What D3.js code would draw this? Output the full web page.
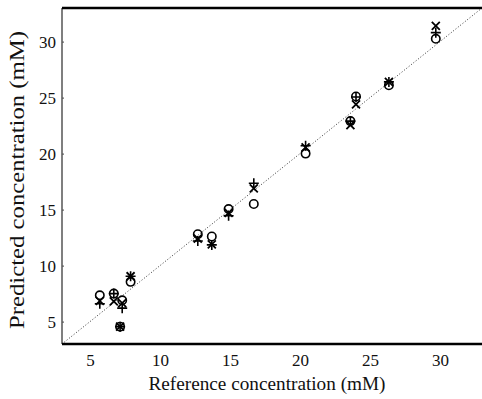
<!DOCTYPE html>
<html>
<head>
<meta charset="utf-8">
<script src="https://cdn.jsdelivr.net/npm/d3@7"></script>
<style>
  body { margin: 0; background: #fff; }
  svg text { font-family: "Liberation Serif", "DejaVu Serif", serif; fill: #111; }
</style>
</head>
<body>
<svg id="chart" width="482" height="399"></svg>
<script>
// reference concentration of each sample (mM)
const reference = [5.7, 6.7, 7.15, 7.3, 7.9, 12.7, 13.7, 14.9, 16.7, 20.4, 23.6, 24.0, 26.35, 29.7];
// three predictions per sample
const predCircle = [7.35, 7.5, 4.55, 6.9, 8.55, 12.8, 12.6, 15.05, 15.5, 20.0, 22.9, 25.1, 26.1, 30.25];
const predPlus   = [6.6, 7.5, 4.55, 6.2, 9.05, 12.2, 11.85, 14.45, 17.35, 20.7, 22.9, 25.05, 26.4, 30.8];
const predCross  = [6.85, 6.8, 4.55, 6.65, 9.05, 12.4, 11.9, 14.7, 16.9, 20.55, 22.55, 24.4, 26.4, 31.4];
const ticks = [5, 10, 15, 20, 25, 30];

const svg = d3.select('#chart');
const plotLeft = 62, plotRight = 482, plotTop = 8, plotBottom = 344;

let x = d3.scaleLinear().domain([3, 33]).range([plotLeft, plotRight]);
let y = d3.scaleLinear().domain([3, 33]).range([plotBottom, plotTop]);

// identity line
svg.append('line')
    .attr('x1', x(3)).attr('y1', y(3)).attr('x2', x(33)).attr('y2', y(33))
    .attr('stroke', '#333').attr('stroke-width', 1).attr('stroke-dasharray', '1,2');

// axes
let xAxis = svg.append('g').attr('transform', 'translate(0,' + plotBottom + ')')
    .call(d3.axisBottom(x).tickValues(ticks).tickSize(0).tickPadding(10));
xAxis.select('.domain').remove();
xAxis.selectAll('text').attr('font-size', 17).attr('font-family', null);

let yAxis = svg.append('g').attr('transform', 'translate(' + plotLeft + ',0)')
    .call(d3.axisLeft(y).tickValues(ticks).tickSize(-2).tickPadding(6));
yAxis.select('.domain').remove();
yAxis.selectAll('line').attr('stroke', '#444');
yAxis.selectAll('text').attr('font-size', 17).attr('font-family', null);

svg.append('line').attr('x1', plotLeft).attr('x2', plotLeft).attr('y1', plotTop).attr('y2', plotBottom)
    .attr('stroke', '#555').attr('stroke-width', 1.5);
svg.append('line').attr('x1', plotLeft).attr('x2', plotRight).attr('y1', plotBottom).attr('y2', plotBottom)
    .attr('stroke', '#000').attr('stroke-width', 2.5);
svg.append('line').attr('x1', plotLeft).attr('x2', plotRight).attr('y1', plotTop).attr('y2', plotTop)
    .attr('stroke', '#000').attr('stroke-width', 2.5);

// markers
let circles = svg.append('g');
reference.forEach((r, i) => {
    circles.append('circle').attr('cx', x(r)).attr('cy', y(predCircle[i])).attr('r', 4.2)
        .attr('fill', 'none').attr('stroke', '#000').attr('stroke-width', 1.6);
});
let pluses = svg.append('g');
reference.forEach((r, i) => {
    let cx = x(r), cy = y(predPlus[i]);
    pluses.append('path')
        .attr('d', 'M' + (cx - 5) + ',' + cy + 'h10M' + cx + ',' + (cy - 5) + 'v10')
        .attr('stroke', '#000').attr('stroke-width', 1.6).attr('fill', 'none');
});
let crosses = svg.append('g');
reference.forEach((r, i) => {
    let cx = x(r), cy = y(predCross[i]);
    crosses.append('path')
        .attr('d', 'M' + (cx - 4) + ',' + (cy - 4) + 'l8,8M' + (cx - 4) + ',' + (cy + 4) + 'l8,-8')
        .attr('stroke', '#000').attr('stroke-width', 1.8).attr('fill', 'none');
});

// titles
svg.append('text').attr('x', 267).attr('y', 390)
    .attr('text-anchor', 'middle').attr('font-size', 19)
    .attr('textLength', 237).attr('lengthAdjust', 'spacingAndGlyphs')
    .text('Reference concentration (mM)');
svg.append('text').attr('transform', 'translate(24,180) rotate(-90)')
    .attr('text-anchor', 'middle').attr('font-size', 20)
    .attr('textLength', 298).attr('lengthAdjust', 'spacingAndGlyphs')
    .text('Predicted concentration (mM)');
</script>
</body>
</html>
